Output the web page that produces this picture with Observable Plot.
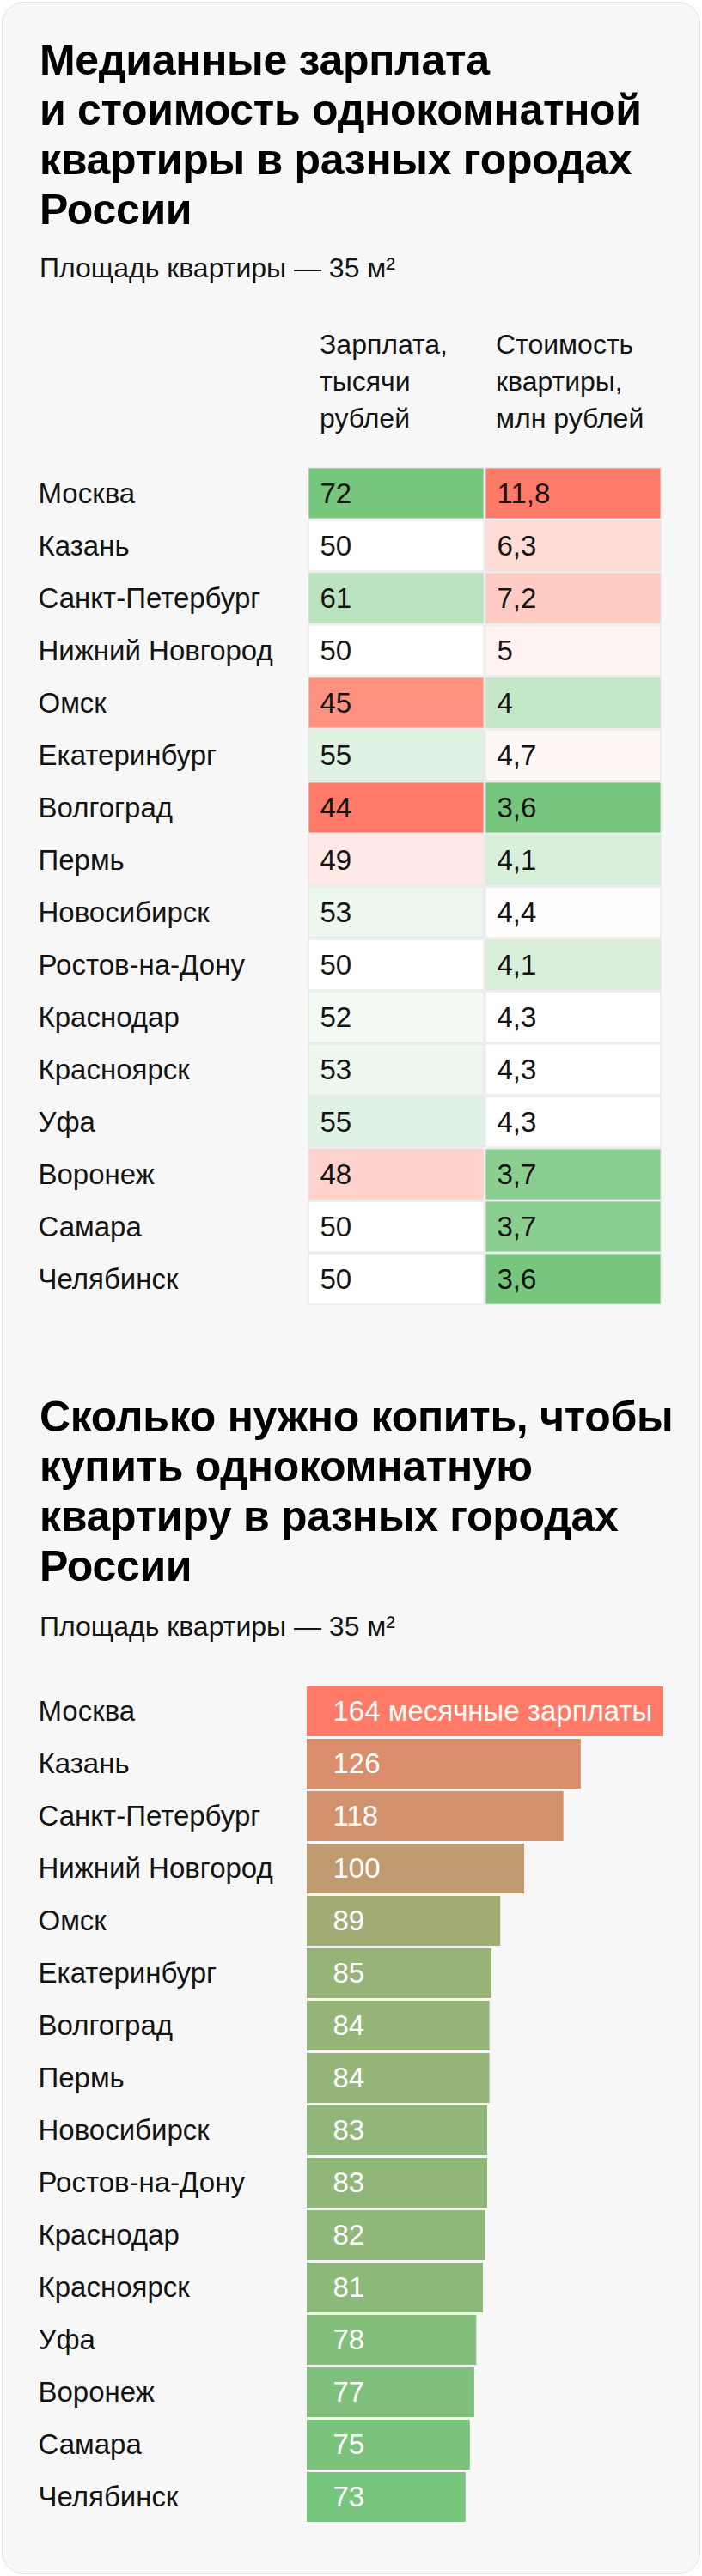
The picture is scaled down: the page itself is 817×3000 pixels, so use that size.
<!DOCTYPE html>
<html>
<head>
<meta charset="utf-8">
<script src="https://cdn.jsdelivr.net/npm/d3@7"></script>
<script src="https://cdn.jsdelivr.net/npm/@observablehq/plot@0.6"></script>
<style>
  html, body { margin: 0; padding: 0; background: #ffffff; }
  body { width: 817px; height: 3000px; position: relative; overflow: hidden;
         font-family: "Liberation Sans", Arial, sans-serif; color: #000; }
  #card { position: absolute; left: 2px; top: 2px; width: 813px; height: 2996px; box-sizing: border-box;
          background: #f7f7f7; border: 1px solid #e2e2e2; border-radius: 26px; }
  .abs { position: absolute; white-space: nowrap; }
  .title { left: 46px; font-weight: bold; font-size: 50px; line-height: 58px; color: #000; letter-spacing: -0.3px; }
  .sub { left: 46px; font-size: 32px; line-height: 40px; color: #141414; }
  .hdr { font-size: 32px; line-height: 43px; color: #141414; }
  .plotwrap { position: absolute; left: 0; }
  .plotwrap svg { display: block; max-width: none; }
</style>
</head>
<body>
<div id="card"></div>
<div class="abs title" style="top:41px">Медианные зарплата<br>и стоимость однокомнатной<br>квартиры в разных городах<br>России</div>
<div class="abs sub" style="top:292px">Площадь квартиры — 35 м²</div>
<div id="hdr1" class="abs hdr" style="top:380px; left:372px"></div>
<div id="hdr2" class="abs hdr" style="top:380px; left:577px"></div>
<div id="table" class="plotwrap" style="top:540px"></div>
<div class="abs title" style="top:1621px">Сколько нужно копить, чтобы<br>купить однокомнатную<br>квартиру в разных городах<br>России</div>
<div class="abs sub" style="top:1874px">Площадь квартиры — 35 м²</div>
<div id="bars" class="plotwrap" style="top:1958px"></div>
<script>
// ---- data ----
const cities = ["Москва", "Казань", "Санкт-Петербург", "Нижний Новгород", "Омск", "Екатеринбург",
  "Волгоград", "Пермь", "Новосибирск", "Ростов-на-Дону", "Краснодар", "Красноярск", "Уфа",
  "Воронеж", "Самара", "Челябинск"];
const salary = [72, 50, 61, 50, 45, 55, 44, 49, 53, 50, 52, 53, 55, 48, 50, 50];   // тысячи рублей
const price = [11.8, 6.3, 7.2, 5, 4, 4.7, 3.6, 4.1, 4.4, 4.1, 4.3, 4.3, 4.3, 3.7, 3.7, 3.6]; // млн рублей
const months = [164, 126, 118, 100, 89, 85, 84, 84, 83, 83, 82, 81, 78, 77, 75, 73]; // месячные зарплаты
const headerSalary = ["Зарплата,", "тысячи", "рублей"];
const headerPrice = ["Стоимость", "квартиры,", "млн рублей"];
const monthsUnit = "месячные зарплаты";
const columns = ["salary", "price"];

// ---- style ----
const RED = "#ff7b67", GREEN = "#76c67e", WHITE = "#ffffff", MID = "#c09b70";
const salaryPivot = 50, pricePivot = 4.3, monthsPivot = 100;
const FONT = "'Liberation Sans', Arial, sans-serif";

document.getElementById("hdr1").innerHTML = headerSalary.join("<br>");
document.getElementById("hdr2").innerHTML = headerPrice.join("<br>");

const fmt = v => String(v).replace(".", ",");

const salaryScale = Plot.scale({color: {type: "linear", domain: [d3.min(salary), salaryPivot, d3.max(salary)], range: [RED, WHITE, GREEN]}});
const priceScale = Plot.scale({color: {type: "linear", domain: [d3.min(price), pricePivot, d3.max(price)], range: [GREEN, WHITE, RED]}});

const cells = cities.flatMap((city, i) => [
  {city, col: "salary", label: fmt(salary[i]), fill: salaryScale.apply(salary[i])},
  {city, col: "price", label: fmt(price[i]), fill: priceScale.apply(price[i])}
]);

const table = Plot.plot({
  width: 817, height: 988,
  marginTop: 2, marginBottom: 5, marginLeft: 357, marginRight: 47,
  style: {background: "transparent", fontFamily: FONT, fontSize: "33px", overflow: "visible"},
  x: {domain: columns, range: [357, 770], paddingInner: 0.01, paddingOuter: 0.005, axis: null},
  y: {domain: cities, paddingInner: 0.03, paddingOuter: 0.015, axis: null},
  color: {type: "identity"},
  marks: [
    Plot.cell(cells, {x: "col", y: "city", fill: "fill", stroke: "#e3e3e3", strokeWidth: 1}),
    Plot.text(cells, {x: "col", y: "city", text: "label", textAnchor: "start", dx: -89, fill: "#141414", fontSize: 33}),
    Plot.text(cities, {y: d => d, text: d => d, frameAnchor: "left", textAnchor: "start", dx: -313, fill: "#141414", fontSize: 33})
  ]
});
document.getElementById("table").appendChild(table);

const bars = cities.map((city, i) => ({city, months: months[i], label: i === 0 ? `${months[i]} ${monthsUnit}` : `${months[i]}`}));

const barChart = Plot.plot({
  width: 817, height: 988,
  marginTop: 2, marginBottom: 5, marginLeft: 357, marginRight: 45,
  style: {background: "transparent", fontFamily: FONT, fontSize: "33px", overflow: "visible"},
  x: {domain: [0, d3.max(months)], range: [357, 772], axis: null},
  y: {domain: cities, paddingInner: 0.045, paddingOuter: 0.0225, axis: null},
  color: {type: "linear", domain: [d3.min(months), monthsPivot, d3.max(months)], range: [GREEN, MID, RED]},
  marks: [
    Plot.barX(bars, {x: "months", y: "city", fill: "months"}),
    Plot.text(bars, {x: 0, y: "city", text: "label", textAnchor: "start", dx: 30, fill: "#ffffff", fontSize: 33}),
    Plot.text(bars, {y: "city", text: "city", frameAnchor: "left", textAnchor: "start", dx: -313, fill: "#141414", fontSize: 33})
  ]
});
document.getElementById("bars").appendChild(barChart);
</script>
</body>
</html>
